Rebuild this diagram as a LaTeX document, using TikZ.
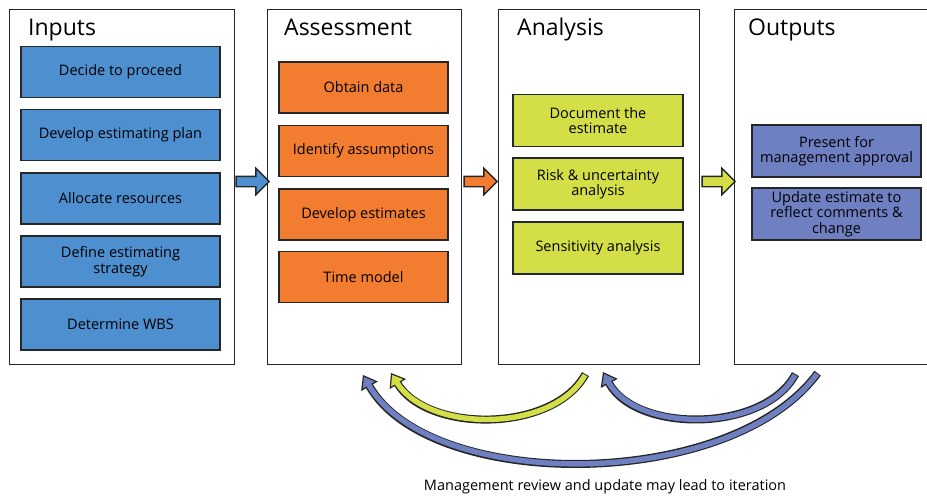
\documentclass[tikz,border=0pt]{standalone}
\usepackage{fontspec}
\setmainfont{Open Sans}
\usetikzlibrary{arrows.meta,shapes.arrows}
\definecolor{cblue}{HTML}{4E8FCF}
\definecolor{corange}{HTML}{F27C30}
\definecolor{cgreen}{HTML}{D4DF48}
\definecolor{cpurple}{HTML}{6F80C2}
\definecolor{cline}{HTML}{262626}
\tikzset{
  col/.style={draw=cline, line width=1.4pt, fill=white, rectangle, inner sep=0pt, anchor=north west},
  box/.style={draw=cline, line width=1.4pt, rectangle, align=center, inner sep=2pt,
              font=\fontsize{14.5}{15.5}\selectfont},
  title/.style={anchor=base west, inner sep=0pt, font=\fontsize{23}{25}\selectfont},
  blockarrow/.style={single arrow, draw=cline, line width=1.4pt, minimum height=33pt,
              minimum width=0pt, inner sep=4.5pt, single arrow head extend=8pt,
              single arrow head indent=0pt},
}
\newcommand{\curvarrow}[5]{%
  \draw[line width=8pt, cline, shorten <=-1pt,
        -{Triangle[length=13pt,width=19pt,line width=1.2pt,fill=#5]}]
        (#1) .. controls #3 and #4 .. (#2);
  \draw[line width=5.4pt, #5, shorten >=11pt] (#1) .. controls #3 and #4 .. (#2);
}
\begin{document}
\begin{tikzpicture}[x=1pt,y=-1pt]
\clip (0,0) rectangle (927,498);
\fill[white] (0,0) rectangle (927,498);

% columns
\node[col, minimum width=225pt, minimum height=355pt] (cin) at (9,9) {};
\node[col, minimum width=194pt, minimum height=355pt] (cas) at (267,9) {};
\node[col, minimum width=201pt, minimum height=355pt] (can) at (498,9) {};
\node[col, minimum width=220pt, minimum height=355pt] (cout) at (734,9) {};

% titles
\node[title] (tin) at (28,35) {Inputs};
\node[title] (tas) at (284,35) {Assessment};
\node[title] (tan) at (517,35) {Analysis};
\node[title] (tout) at (748,35) {Outputs};

% inputs
\node[box, fill=cblue, minimum width=199pt, minimum height=51pt] (i1) at (120.5,72) {Decide to proceed};
\node[box, fill=cblue, minimum width=199pt, minimum height=51pt] (i2) at (120.5,135) {Develop estimating plan};
\node[box, fill=cblue, minimum width=199pt, minimum height=51pt] (i3) at (120.5,198.5) {Allocate resources};
\node[box, fill=cblue, minimum width=199pt, minimum height=51pt] (i4) at (120.5,261.5) {Define estimating\\strategy};
\node[box, fill=cblue, minimum width=199pt, minimum height=51pt] (i5) at (120.5,324.5) {Determine WBS};

% assessment
\node[box, fill=corange, minimum width=169pt, minimum height=51pt] (a1) at (363.5,87.5) {Obtain data};
\node[box, fill=corange, minimum width=169pt, minimum height=51pt] (a2) at (363.5,151) {Identify assumptions};
\node[box, fill=corange, minimum width=169pt, minimum height=51pt] (a3) at (363.5,214.5) {Develop estimates};
\node[box, fill=corange, minimum width=169pt, minimum height=51pt] (a4) at (363.5,277) {Time model};

% analysis
\node[box, fill=cgreen, minimum width=170pt, minimum height=52pt] (n1) at (598,120.5) {Document the\\estimate};
\node[box, fill=cgreen, minimum width=170pt, minimum height=52pt] (n2) at (598,184) {Risk \& uncertainty\\analysis};
\node[box, fill=cgreen, minimum width=170pt, minimum height=52pt] (n3) at (598,248) {Sensitivity analysis};

% outputs
\node[box, fill=cpurple, minimum width=169pt, minimum height=52pt] (o1) at (836.5,151) {Present for\\management approval};
\node[box, fill=cpurple, minimum width=169pt, minimum height=52pt] (o2) at (836.5,214) {Update estimate to\\reflect comments \&\\change};

% block arrows between columns
\node[blockarrow, fill=cblue] (ba1) at (250,181.5) {};
\node[blockarrow, fill=corange] (ba2) at (478,181.5) {};
\node[blockarrow, fill=cgreen] (ba3) at (716,181.5) {};

% curved feedback arrows
\coordinate (g1) at (585,375);
\coordinate (g2) at (391,373);
\coordinate (b1) at (795,375);
\coordinate (b2) at (603,372);
\coordinate (c1) at (817,374);
\coordinate (c2) at (363,375);
\curvarrow{c1}{c2}{(730,492)}{(430,492)}{cpurple}
\curvarrow{g1}{g2}{(553,433)}{(428,433)}{cgreen}
\curvarrow{b1}{b2}{(764,433)}{(636,433)}{cpurple}

% caption
\node[font=\fontsize{14.5}{16}\selectfont, inner sep=0pt] (cap) at (605,487) {Management review and update may lead to iteration};
\end{tikzpicture}
\end{document}
